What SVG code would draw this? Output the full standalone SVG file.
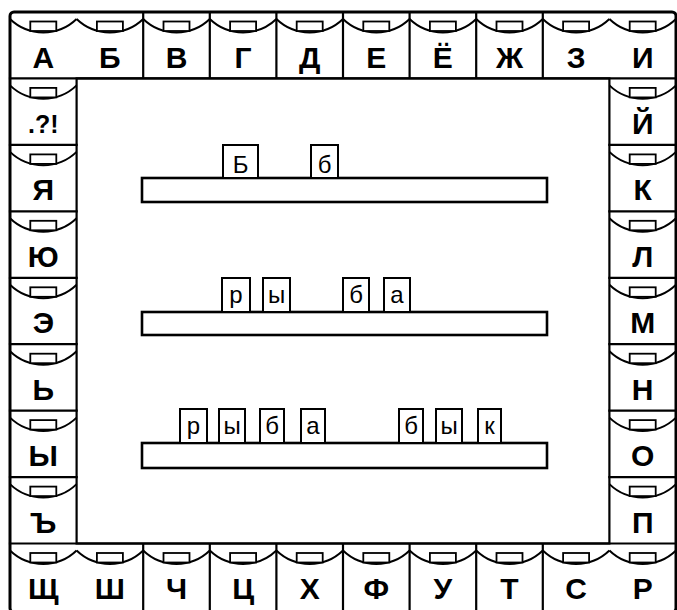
<svg xmlns="http://www.w3.org/2000/svg" xmlns:xlink="http://www.w3.org/1999/xlink" width="677" height="610" viewBox="0 0 677 610">
<style>
.ln{fill:none;stroke:#000;stroke-width:2.2;stroke-linecap:square}
.outer{fill:none;stroke:#000;stroke-width:3}
.pk{fill:none;stroke:#000;stroke-width:2}
.tab{fill:#fff;stroke:#000;stroke-width:1.8}
.L{font-family:"Liberation Sans","DejaVu Sans",sans-serif;font-weight:bold;font-size:30px;text-anchor:middle;fill:#000}
.S{font-size:25px}
.bar{fill:#fff;stroke:#000;stroke-width:2.6}
.card{fill:#fff;stroke:#000;stroke-width:2}
.C{font-family:"Liberation Sans","DejaVu Sans",sans-serif;font-size:24px;text-anchor:middle;fill:#000}
</style>
<defs>
<g id="pocket">
<path class="pk" d="M0,7 A48,48 0 0 0 66.6,7"/>
<rect class="tab" x="20.3" y="9.5" width="26" height="9.5"/>
</g>
</defs>
<rect width="677" height="610" fill="#fff"/>
<g id="frame">
<rect class="outer" x="10" y="12" width="666" height="600" rx="4"/>
<rect class="ln" x="76.6" y="78.4" width="532.8" height="465.1"/>
<path class="ln" d="M10,78.4H676M10,543.5H676M143.2,12V78.4M209.8,12V78.4M276.4,12V78.4M343,12V78.4M409.6,12V78.4M476.2,12V78.4M542.8,12V78.4M143.2,543.5V610M209.8,543.5V610M276.4,543.5V610M343,543.5V610M409.6,543.5V610M476.2,543.5V610M542.8,543.5V610M10,144.9H76.6M10,211.3H76.6M10,277.8H76.6M10,344.2H76.6M10,410.6H76.6M10,477.1H76.6M609.4,144.9H676M609.4,211.3H676M609.4,277.8H676M609.4,344.2H676M609.4,410.6H676M609.4,477.1H676"/>
</g>
<g id="cell-A"><use href="#pocket" x="10" y="12"/><text class="L" x="43.3" y="68">А</text></g>
<g id="cell-B"><use href="#pocket" x="76.6" y="12"/><text class="L" x="109.9" y="68">Б</text></g>
<g id="cell-V"><use href="#pocket" x="143.2" y="12"/><text class="L" x="176.5" y="68">В</text></g>
<g id="cell-G"><use href="#pocket" x="209.8" y="12"/><text class="L" x="243.1" y="68">Г</text></g>
<g id="cell-D"><use href="#pocket" x="276.4" y="12"/><text class="L" x="309.7" y="68">Д</text></g>
<g id="cell-E"><use href="#pocket" x="343" y="12"/><text class="L" x="376.3" y="68">Е</text></g>
<g id="cell-YO"><use href="#pocket" x="409.6" y="12"/><text class="L" x="442.9" y="68">Ё</text></g>
<g id="cell-ZH"><use href="#pocket" x="476.2" y="12"/><text class="L" x="509.5" y="68">Ж</text></g>
<g id="cell-Z"><use href="#pocket" x="542.8" y="12"/><text class="L" x="576.1" y="68">З</text></g>
<g id="cell-I"><use href="#pocket" x="609.4" y="12"/><text class="L" x="642.7" y="68">И</text></g>
<g id="cell-punct"><use href="#pocket" x="10" y="78.4"/><text class="L S" x="43.3" y="133">.?!</text></g>
<g id="cell-YA"><use href="#pocket" x="10" y="144.9"/><text class="L" x="43.3" y="200">Я</text></g>
<g id="cell-YU"><use href="#pocket" x="10" y="211.3"/><text class="L" x="43.3" y="266.5">Ю</text></g>
<g id="cell-EE"><use href="#pocket" x="10" y="277.8"/><text class="L" x="43.3" y="333">Э</text></g>
<g id="cell-soft"><use href="#pocket" x="10" y="344.2"/><text class="L" x="43.3" y="399.5">Ь</text></g>
<g id="cell-Y"><use href="#pocket" x="10" y="410.6"/><text class="L" x="43.3" y="466">Ы</text></g>
<g id="cell-hard"><use href="#pocket" x="10" y="477.1"/><text class="L" x="43.3" y="532.5">Ъ</text></g>
<g id="cell-IY"><use href="#pocket" x="609.4" y="78.4"/><text class="L" x="642.7" y="133.5">Й</text></g>
<g id="cell-K"><use href="#pocket" x="609.4" y="144.9"/><text class="L" x="642.7" y="200">К</text></g>
<g id="cell-L"><use href="#pocket" x="609.4" y="211.3"/><text class="L" x="642.7" y="266.5">Л</text></g>
<g id="cell-M"><use href="#pocket" x="609.4" y="277.8"/><text class="L" x="642.7" y="333">М</text></g>
<g id="cell-N"><use href="#pocket" x="609.4" y="344.2"/><text class="L" x="642.7" y="399.5">Н</text></g>
<g id="cell-O"><use href="#pocket" x="609.4" y="410.6"/><text class="L" x="642.7" y="466">О</text></g>
<g id="cell-P"><use href="#pocket" x="609.4" y="477.1"/><text class="L" x="642.7" y="532.5">П</text></g>
<g id="cell-SHCH"><use href="#pocket" x="10" y="543.5"/><text class="L" x="43.3" y="599">Щ</text></g>
<g id="cell-SH"><use href="#pocket" x="76.6" y="543.5"/><text class="L" x="109.9" y="599">Ш</text></g>
<g id="cell-CH"><use href="#pocket" x="143.2" y="543.5"/><text class="L" x="176.5" y="599">Ч</text></g>
<g id="cell-TS"><use href="#pocket" x="209.8" y="543.5"/><text class="L" x="243.1" y="599">Ц</text></g>
<g id="cell-KH"><use href="#pocket" x="276.4" y="543.5"/><text class="L" x="309.7" y="599">Х</text></g>
<g id="cell-F"><use href="#pocket" x="343" y="543.5"/><text class="L" x="376.3" y="599">Ф</text></g>
<g id="cell-U"><use href="#pocket" x="409.6" y="543.5"/><text class="L" x="442.9" y="599">У</text></g>
<g id="cell-T"><use href="#pocket" x="476.2" y="543.5"/><text class="L" x="509.5" y="599">Т</text></g>
<g id="cell-S"><use href="#pocket" x="542.8" y="543.5"/><text class="L" x="576.1" y="599">С</text></g>
<g id="cell-R"><use href="#pocket" x="609.4" y="543.5"/><text class="L" x="642.7" y="599">Р</text></g>
<g id="connectors"></g>
<g id="rail-1">
<rect class="bar" x="142" y="178" width="405" height="24"/>
<g id="card-1-1"><rect class="card" x="223" y="145" width="35" height="33"/><text class="C" x="240.5" y="173">Б</text></g>
<g id="card-1-2"><rect class="card" x="311" y="145" width="27" height="33"/><text class="C" x="324.5" y="173">б</text></g>
</g>
<g id="rail-2">
<rect class="bar" x="142" y="312" width="405" height="23"/>
<g id="card-2-1"><rect class="card" x="222" y="278" width="28" height="34"/><text class="C" x="236" y="303">р</text></g>
<g id="card-2-2"><rect class="card" x="263" y="278" width="27" height="34"/><text class="C" x="276.5" y="303">ы</text></g>
<g id="card-2-3"><rect class="card" x="343" y="278" width="26" height="34"/><text class="C" x="356" y="303">б</text></g>
<g id="card-2-4"><rect class="card" x="384" y="278" width="26" height="34"/><text class="C" x="397" y="303">а</text></g>
</g>
<g id="rail-3">
<rect class="bar" x="142" y="443" width="405" height="25"/>
<g id="card-3-1"><rect class="card" x="180" y="409" width="27" height="34"/><text class="C" x="193.5" y="434">р</text></g>
<g id="card-3-2"><rect class="card" x="219" y="409" width="26" height="34"/><text class="C" x="232" y="434">ы</text></g>
<g id="card-3-3"><rect class="card" x="260" y="409" width="24" height="34"/><text class="C" x="272" y="434">б</text></g>
<g id="card-3-4"><rect class="card" x="301" y="409" width="24" height="34"/><text class="C" x="313" y="434">а</text></g>
<g id="card-3-5"><rect class="card" x="399" y="409" width="24" height="34"/><text class="C" x="411" y="434">б</text></g>
<g id="card-3-6"><rect class="card" x="436" y="409" width="26" height="34"/><text class="C" x="449" y="434">ы</text></g>
<g id="card-3-7"><rect class="card" x="478" y="409" width="23" height="34"/><text class="C" x="489.5" y="434">к</text></g>
</g>
</svg>
